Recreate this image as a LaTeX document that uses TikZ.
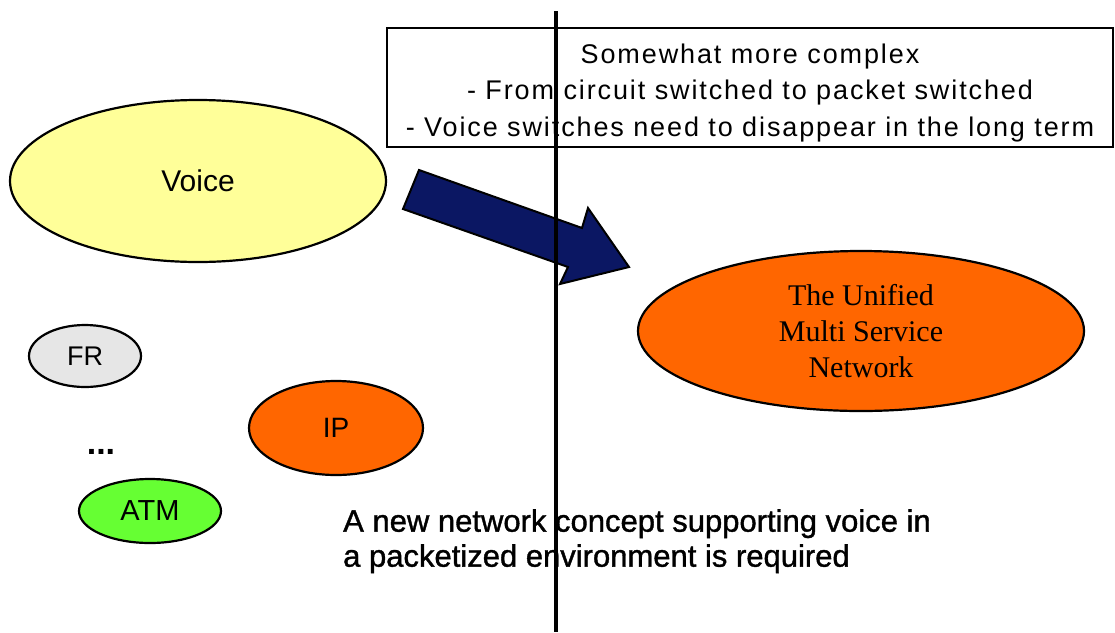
\documentclass[tikz,border=0pt]{standalone}
\usepackage{fontspec}
\setmainfont{Liberation Sans}
\newfontfamily\netserif{Liberation Serif}
\newfontfamily\notefont[LetterSpace=7]{Liberation Sans}
\newfontfamily\needfont[FakeBold=1.2]{Liberation Sans}
\usetikzlibrary{shapes.geometric}
\definecolor{voiceyellow}{HTML}{FFFF99}
\definecolor{netorange}{HTML}{FF6600}
\definecolor{frgrey}{HTML}{E6E6E6}
\definecolor{atmgreen}{HTML}{66FF33}
\definecolor{arrownavy}{HTML}{0B1763}

\begin{document}
\begin{tikzpicture}[x=1pt, y=-1pt]
    \tikzstyle{netblob}=[ellipse, draw=black, line width=2.2pt, inner sep=0pt]
    \tikzstyle{notebox}=[draw=black, line width=1.8pt, inner sep=0pt,
      align=center, font=\notefont\fontsize{27}{36.5}\selectfont]
    \useasboundingbox (0,0) rectangle (1115,632);
    \draw (198,181) node[netblob, fill=voiceyellow, minimum width=376pt,
      minimum height=162pt, font=\fontsize{30}{36}\selectfont] (voice) {Voice};
    \draw (85,356) node[netblob, fill=frgrey, minimum width=112pt,
      minimum height=62pt, font=\fontsize{27}{32}\selectfont] (fr) {FR};
    \draw (336,428) node[netblob, fill=netorange, minimum width=174pt,
      minimum height=94pt, font=\fontsize{28}{32}\selectfont] (ip) {IP};
    \draw (150,511) node[netblob, fill=atmgreen, minimum width=142pt,
      minimum height=64pt, font=\fontsize{29}{32}\selectfont] (atm) {ATM};
    \draw (101,452) node[font=\bfseries\fontsize{34}{36}\selectfont] (more) {...};
    \draw (861,331) node[netblob, fill=netorange, minimum width=446pt,
      minimum height=160pt, align=center,
      font=\netserif\fontsize{30}{36}\selectfont] (unified)
      {The Unified\\Multi Service\\Network};
    \draw (750,87.5) node[notebox, minimum width=726pt, minimum height=119pt] (note)
      {\rule{0pt}{30pt}Somewhat more complex\\
       - From circuit switched to packet switched\\
       - Voice switches need to disappear in the long term};
    \filldraw[fill=arrownavy, draw=black, line width=2pt, line join=miter]
      (419,170) -- (582,228) -- (588,208) -- (629,267) -- (560,284)
      -- (568,267) -- (403,209) -- cycle;
    \draw (343,509) node[anchor=north west, inner sep=0pt, align=left,
      font=\needfont\fontsize{31}{35}\selectfont] (need)
      {A new network concept supporting voice in\\
       a packetized environment is required};
    \coordinate (divtop) at (556,11);
    \coordinate (divbot) at (556,632);
    \draw[line width=4.5pt] (divtop) -- (divbot);
\end{tikzpicture}
\end{document}
